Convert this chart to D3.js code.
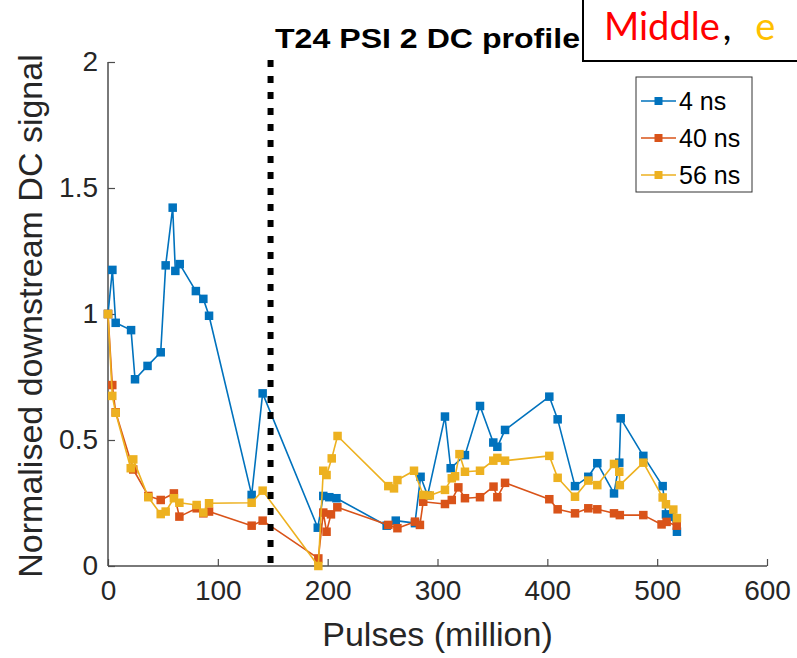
<!DOCTYPE html>
<html>
<head>
<meta charset="utf-8">
<script src="https://cdn.jsdelivr.net/npm/d3@7"></script>
<style>
  html, body { margin: 0; padding: 0; background: #fff; }
  svg { display: block; }
</style>
</head>
<body>
<svg id="chart" width="797" height="658"></svg>
<script>
// ---- data ----
const pulses4 = [0, 4, 7, 21, 24.6, 36, 48, 52.5, 58.9, 61.3, 65.3, 80, 86.8, 92, 130.8, 140.8, 191, 196, 201.5, 208, 253.7, 262, 279.5, 284.6, 291, 306.8, 312, 325, 338.7, 350.8, 354.5, 361.5, 401.8, 409.4, 425.2, 437.3, 445.5, 460.7, 465.5, 466.8, 487.4, 505, 508, 513, 518];
const signal4 = [1.0, 1.175, 0.965, 0.936, 0.741, 0.794, 0.848, 1.193, 1.422, 1.171, 1.198, 1.091, 1.06, 0.993, 0.282, 0.685, 0.152, 0.278, 0.273, 0.269, 0.16, 0.18, 0.17, 0.354, 0.28, 0.593, 0.388, 0.44, 0.635, 0.49, 0.473, 0.54, 0.672, 0.582, 0.317, 0.354, 0.408, 0.288, 0.41, 0.586, 0.437, 0.317, 0.205, 0.195, 0.136];

const pulses40 = [0, 3.9, 7, 23, 36.7, 48, 60, 65, 80.7, 86.8, 92, 130.8, 140.8, 191.5, 196, 199, 203, 208.8, 255.2, 263.5, 279.5, 284, 287, 306.8, 313, 319, 325, 338.7, 351, 354.5, 361.5, 401.8, 409.4, 425.2, 437.3, 445.5, 460.7, 466, 487.4, 504, 508.6, 517.8];
const signal40 = [1.0, 0.718, 0.61, 0.383, 0.278, 0.262, 0.288, 0.196, 0.229, 0.209, 0.216, 0.16, 0.18, 0.03, 0.212, 0.136, 0.205, 0.233, 0.163, 0.15, 0.176, 0.163, 0.255, 0.246, 0.262, 0.312, 0.269, 0.273, 0.315, 0.273, 0.33, 0.265, 0.225, 0.209, 0.229, 0.225, 0.209, 0.202, 0.202, 0.165, 0.175, 0.16];

const pulses56 = [0, 3.9, 7, 20.7, 23, 36.7, 48, 52.5, 60, 65, 80.7, 86.8, 92, 130.8, 140.8, 191.5, 196, 199, 203.7, 209, 255.2, 260.4, 263.5, 278.6, 287, 293, 306.8, 313, 316, 320, 325, 338.7, 350.8, 354.5, 361.5, 401.8, 409.4, 425.2, 437.3, 445.5, 460.7, 465.5, 466, 487.4, 505, 508, 514.7, 518];
const signal56 = [1.0, 0.675, 0.608, 0.388, 0.423, 0.273, 0.206, 0.216, 0.269, 0.251, 0.242, 0.212, 0.249, 0.251, 0.299, 0.0, 0.378, 0.361, 0.427, 0.516, 0.317, 0.308, 0.341, 0.378, 0.282, 0.28, 0.302, 0.348, 0.356, 0.444, 0.374, 0.378, 0.418, 0.429, 0.418, 0.437, 0.35, 0.275, 0.339, 0.321, 0.405, 0.374, 0.321, 0.41, 0.272, 0.245, 0.224, 0.19];

const seriesNames = ["4 ns", "40 ns", "56 ns"];
const seriesColors = ["#0072BD", "#D95319", "#EDB120"];
const xTicks = [0, 100, 200, 300, 400, 500, 600];
const yTicks = [0, 0.5, 1, 1.5, 2];
const yTickLabels = ["0", "0.5", "1", "1.5", "2"];
const dividerPulse = [148];
const titleText = "T24 PSI 2 DC profile";
const xLabel = "Pulses (million)";
const yLabel = "Normalised downstream DC signal";

// ---- drawing ----
const svg = d3.select("#chart");
const axisColor = "#262626";
const font = "'Liberation Sans', Arial, Helvetica, sans-serif";

const x = d3.scaleLinear().domain([0, 600]).range([108, 767]);
const y = d3.scaleLinear().domain([0, 2]).range([566, 62]);

// axes
const xAxis = d3.axisBottom(x).tickValues(xTicks).tickSize(-7).tickPadding(14).tickFormat(d3.format("d"));
const gx = svg.append("g").attr("transform", `translate(0,${y(0)})`).call(xAxis);
const yAxis = d3.axisLeft(y).tickValues(yTicks).tickSize(-7).tickPadding(10).tickFormat((d, i) => yTickLabels[i]);
const gy = svg.append("g").attr("transform", `translate(${x(0)},0)`).call(yAxis);

[gx, gy].forEach(g => {
  g.select(".domain").attr("stroke", "#4d4d4d").attr("stroke-width", 1.5);
  g.selectAll(".tick line").attr("stroke", "#4d4d4d").attr("stroke-width", 1.2);
  g.selectAll(".tick text").attr("fill", axisColor).attr("font-family", font).attr("font-size", 28);
});
gx.select(".domain").attr("d", `M${x(0)},0H${x(600)}`);
gy.select(".domain").attr("d", `M0,${y(0)}V${y(2)}`);
gx.selectAll(".tick text").attr("dy", "0.71em");

// series
const allSeries = [
  {name: seriesNames[0], color: seriesColors[0], xs: pulses4, ys: signal4},
  {name: seriesNames[1], color: seriesColors[1], xs: pulses40, ys: signal40},
  {name: seriesNames[2], color: seriesColors[2], xs: pulses56, ys: signal56}
];
const line = d3.line().x(d => x(d[0])).y(d => y(d[1]));
const ms = 8.5;
allSeries.forEach(s => {
  const pts = s.xs.map((v, i) => [v, s.ys[i]]);
  const g = svg.append("g");
  g.append("path").datum(pts).attr("d", line).attr("fill", "none")
    .attr("stroke", s.color).attr("stroke-width", 1.6).attr("stroke-linejoin", "round");
  g.selectAll("rect").data(pts).join("rect")
    .attr("x", d => x(d[0]) - ms / 2).attr("y", d => y(d[1]) - ms / 2)
    .attr("width", ms).attr("height", ms).attr("fill", s.color);
});

// dotted divider
svg.append("line")
  .attr("x1", x(dividerPulse[0])).attr("x2", x(dividerPulse[0]))
  .attr("y1", y(2) - 2).attr("y2", y(0) - 2)
  .attr("stroke", "#000").attr("stroke-width", 6).attr("stroke-dasharray", "7,9");

// title
svg.append("text").attr("x", 275).attr("y", 48).text(titleText)
  .attr("font-family", font).attr("font-weight", "bold").attr("font-size", 27)
  .attr("textLength", 305).attr("lengthAdjust", "spacingAndGlyphs")
  .attr("fill", "#000");

// axis labels
svg.append("text").attr("x", (x(0) + x(600)) / 2).attr("y", 646).attr("text-anchor", "middle")
  .attr("font-family", font).attr("font-size", 34).attr("fill", axisColor).text(xLabel);
svg.append("text").attr("transform", `translate(42,${(y(0) + y(2)) / 2 + 2}) rotate(-90)`)
  .attr("text-anchor", "middle").attr("font-family", font).attr("font-size", 34)
  .attr("fill", axisColor).text(yLabel);

// legend
const lg = svg.append("g");
lg.append("rect").attr("x", 636).attr("y", 77).attr("width", 116).attr("height", 115)
  .attr("fill", "#fff").attr("stroke", "#333").attr("stroke-width", 1);
allSeries.forEach((s, i) => {
  const cy = 101 + i * 37;
  lg.append("line").attr("x1", 641).attr("x2", 676).attr("y1", cy).attr("y2", cy)
    .attr("stroke", s.color).attr("stroke-width", 1.6);
  lg.append("rect").attr("x", 658.5 - 4).attr("y", cy - 4).attr("width", 8).attr("height", 8).attr("fill", s.color);
  lg.append("text").attr("x", 679).attr("y", cy).attr("dy", "0.36em")
    .attr("font-family", font).attr("font-size", 25).attr("fill", "#000").text(s.name);
});

// overlay text box
svg.append("rect").attr("x", 583).attr("y", -5).attr("width", 230).attr("height", 66)
  .attr("fill", "#fff").attr("stroke", "#000").attr("stroke-width", 2);
const bf = "Lato, 'Open Sans', sans-serif";
const boxText = svg.append("text").attr("x", 604).attr("y", 40)
  .attr("font-family", bf).attr("font-size", 38);
boxText.append("tspan").attr("fill", "#FF0000").text("Middle");
boxText.append("tspan").attr("fill", "#000").attr("dx", 3).text(",");
boxText.append("tspan").attr("fill", "#FFC000").attr("dx", 24).text("e");
</script>
</body>
</html>
